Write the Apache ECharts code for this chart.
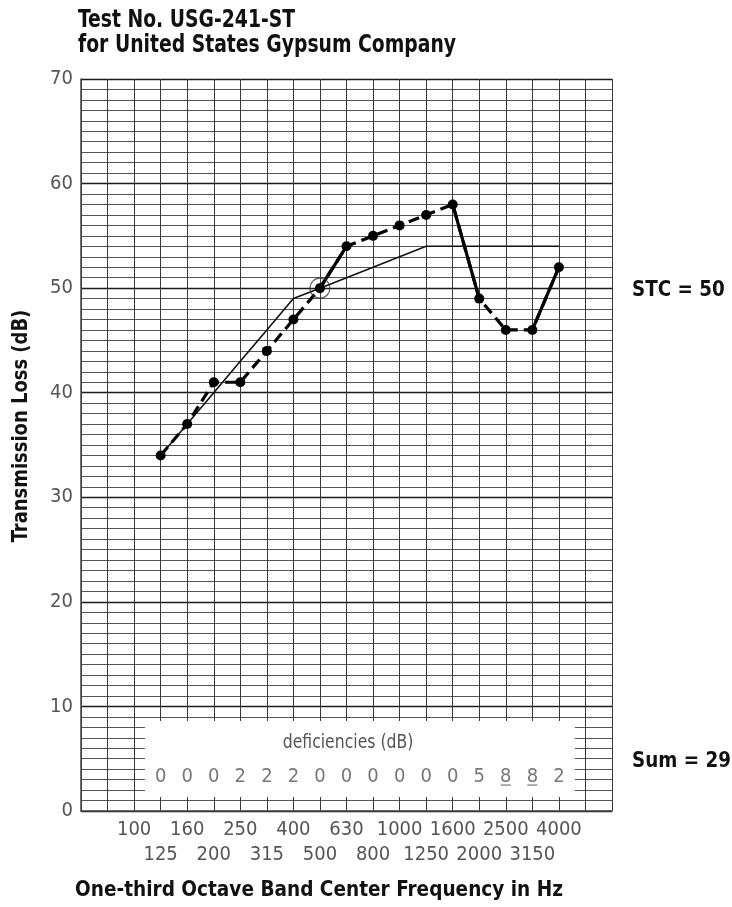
<!DOCTYPE html>
<html>
<head>
<meta charset="utf-8">
<script src="https://cdn.jsdelivr.net/npm/echarts@6/dist/echarts.min.js"></script>
<style>
  html, body { margin: 0; padding: 0; background: #fff; }
  #chart { width: 732px; height: 907px; }
</style>
</head>
<body>
<div id="chart"></div>
<script>
// One-third octave grid positions (x axis), 63 Hz .. 6300 Hz
const axisFreqs = ['63','80','100','125','160','200','250','315','400','500','630','800','1000','1250','1600','2000','2500','3150','4000','5000','6300'];
// tick labels shown under the grid
const tickLabels = ['','','100','125','160','200','250','315','400','500','630','800','1000','1250','1600','2000','2500','3150','4000','',''];
// measured test bands
const bands = ['125','160','200','250','315','400','500','630','800','1000','1250','1600','2000','2500','3150','4000'];
// measured transmission loss (dB)
const measuredTL = [34,37,41,41,44,47,50,54,55,56,57,58,49,46,46,52];
// STC 50 reference contour (dB)
const stcContour = [34,37,40,43,46,49,50,51,52,53,54,54,54,54,54,54];
// deficiencies (dB)
const deficiencies = [0,0,0,2,2,2,0,0,0,0,0,0,5,8,8,2];
// underlined deficiencies (the 8 dB max)
const underlined = [false,false,false,false,false,false,false,false,false,false,false,false,false,true,true,false];
// segments of the measured curve drawn solid rather than dashed
const solidSegments = [['500','630'],['1600','2000'],['3150','4000']];
const stcValue = 50;
const sumDef = 29;

const idx = f => axisFreqs.indexOf(f);
const measuredData = bands.map((f, i) => [idx(f), measuredTL[i]]);
const stcData = bands.map((f, i) => [idx(f), stcContour[i]]);
const solidData = [];
solidSegments.forEach(([a, b], k) => {
  if (k > 0) solidData.push([null, null]);
  solidData.push([idx(a), measuredTL[bands.indexOf(a)]]);
  solidData.push([idx(b), measuredTL[bands.indexOf(b)]]);
});
const ringData = [[idx('500'), measuredTL[bands.indexOf('500')]]];
const defRowY = 3.3;
const defData = bands.map((f, i) => ({ value: [idx(f), defRowY], def: deficiencies[i] }));
const underlineData = bands.map((f, i) => underlined[i] ? [idx(f), defRowY - 0.82] : null).filter(Boolean);
const boxLeft = idx(bands[0]) - 0.59, boxRight = idx(bands[bands.length - 1]) + 0.6;

const NARROW = '"Liberation Sans Narrow", "DejaVu Sans Condensed", "Arial Narrow", sans-serif';
const chart = echarts.init(document.getElementById('chart'), null, { renderer: 'canvas' });
chart.setOption({
  animation: false,
  backgroundColor: '#fff',
  grid: { left: 81, right: 120, top: 79, bottom: 96 },
  xAxis: {
    type: 'value', min: 0, max: axisFreqs.length - 1, interval: 1,
    axisLine: { show: true, onZero: false, lineStyle: { color: '#444', width: 1.5 } },
    axisTick: { show: false },
    splitLine: { show: true, lineStyle: { color: '#3a3a3a', width: 1 } },
    axisLabel: {
      margin: 6,
      formatter: v => {
        const t = tickLabels[v] || '';
        if (!t) return '';
        return (v % 2 === 0) ? t : '\n' + t;
      },
      fontFamily: NARROW, fontSize: 20, lineHeight: 25, color: '#555'
    }
  },
  yAxis: {
    type: 'value', min: 0, max: 70, interval: 10,
    axisLine: { show: true, lineStyle: { color: '#444', width: 1.5 } },
    axisTick: { show: false },
    minorTick: { show: false, splitNumber: 10 },
    splitLine: { show: true, lineStyle: { color: '#1a1a1a', width: 1.4 } },
    minorSplitLine: { show: true, lineStyle: { color: '#555', width: 1 } },
    axisLabel: { margin: 8, fontFamily: NARROW, fontSize: 20, color: '#555' }
  },
  series: [
    {
      type: 'line', name: 'box', data: [], silent: true,
      markArea: {
        silent: true,
        itemStyle: { color: '#fff', opacity: 1 },
        data: [[{ coord: [boxLeft, 8.6] }, { coord: [boxRight, 1.35] }]]
      }
    },
    {
      type: 'line', name: 'STC contour', data: stcData, symbol: 'none', z: 3,
      lineStyle: { color: '#111', width: 1.6 }
    },
    {
      type: 'line', name: 'Measured', data: measuredData, z: 4,
      symbol: 'circle', symbolSize: 10,
      itemStyle: { color: '#000' },
      lineStyle: { color: '#000', width: 3.2, type: [11, 6] }
    },
    {
      type: 'line', name: 'Measured solid', data: solidData, z: 4, connectNulls: false,
      symbol: 'none',
      lineStyle: { color: '#000', width: 3.2 }
    },
    {
      type: 'scatter', name: 'ring', data: ringData, z: 5,
      symbol: 'circle', symbolSize: 20,
      itemStyle: { color: 'rgba(0,0,0,0)', borderColor: '#333', borderWidth: 1.2 }
    },
    {
      type: 'scatter', name: 'deficiencies', data: defData, z: 6, symbolSize: 0,
      label: {
        show: true, position: 'inside',
        formatter: p => String(p.data.def),
        fontFamily: NARROW, fontSize: 20, color: '#555'
      }
    },
    {
      type: 'scatter', name: 'underline', data: underlineData, z: 6,
      symbol: 'rect', symbolSize: [10, 1.5],
      itemStyle: { color: '#777' }
    }
  ],
  graphic: [
    {
      type: 'text', x: 78, y: 8, scaleX: 0.87,
      style: { text: 'Test No. USG-241-ST\nfor United States Gypsum Company', fontFamily: NARROW, fontWeight: 'bold', fontSize: 24, lineHeight: 25, fill: '#111', align: 'left', verticalAlign: 'top' }
    },
    {
      type: 'text', x: 22, y: 426, rotation: Math.PI / 2, scaleX: 0.95,
      style: { text: 'Transmission Loss (dB)', fontFamily: NARROW, fontWeight: 'bold', fontSize: 21, fill: '#111', align: 'center', verticalAlign: 'middle' }
    },
    {
      type: 'text', x: 75, y: 890, scaleX: 0.935,
      style: { text: 'One-third Octave Band Center Frequency in Hz', fontFamily: NARROW, fontWeight: 'bold', fontSize: 22, fill: '#111', align: 'left', verticalAlign: 'middle' }
    },
    {
      type: 'text', x: 632, y: 291, scaleX: 0.97,
      style: { text: 'STC = ' + stcValue, fontFamily: NARROW, fontWeight: 'bold', fontSize: 21, fill: '#111', align: 'left', verticalAlign: 'middle' }
    },
    {
      type: 'text', x: 632, y: 762, scaleX: 0.97,
      style: { text: 'Sum = ' + sumDef, fontFamily: NARROW, fontWeight: 'bold', fontSize: 21, fill: '#111', align: 'left', verticalAlign: 'middle' }
    },
    {
      type: 'text', x: 348, y: 743, z: 10, scaleX: 0.87,
      style: { text: 'deficiencies (dB)', fontFamily: NARROW, fontSize: 20, fill: '#555', align: 'center', verticalAlign: 'middle' }
    }
  ]
});
</script>
</body>
</html>
